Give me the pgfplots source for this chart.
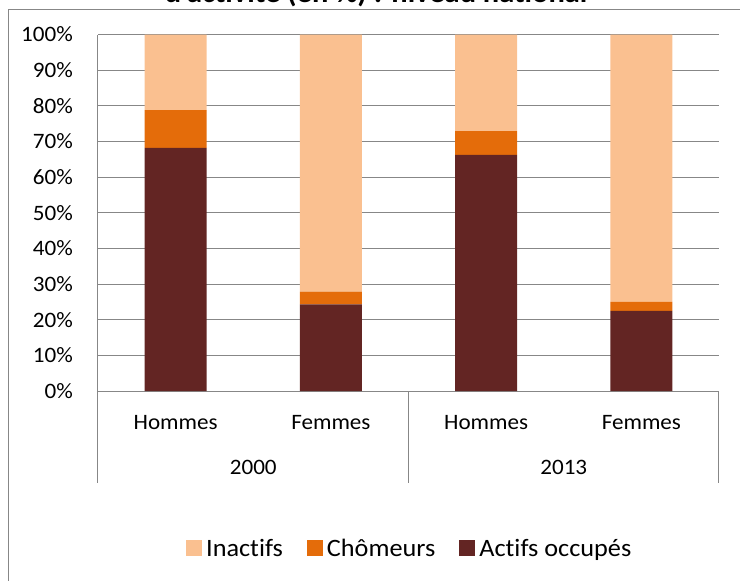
\documentclass[border=0pt]{standalone}
\usepackage{fontspec}
\setmainfont{Carlito}[FakeStretch=1.05, Ligatures=NoCommon]
\usepackage{pgfplots}
\pgfplotsset{compat=1.18}
\definecolor{inact}{HTML}{FAC090}
\definecolor{chom}{HTML}{E46C0A}
\definecolor{actif}{HTML}{632523}
\definecolor{gridc}{HTML}{878787}
\begin{document}
\begin{tikzpicture}[font=\fontsize{22}{26}\selectfont]
\begin{axis}[
  at={(0pt,0pt)}, anchor=south west,
  scale only axis, width=621pt, height=356.5pt,
  xmin=-0.5, xmax=3.5, ymin=0, ymax=100,
  ybar stacked, bar width=62pt,
  axis x line*=bottom, axis y line*=left,
  axis line style={-, gridc, line width=1pt},
  ymajorgrids, grid style={gridc, line width=1pt},
  ytick={0,10,...,100},
  /pgf/number format/assume math mode=true,
  yticklabel={\pgfmathprintnumber{\tick}\%},
  yticklabel style={anchor=east, inner sep=0pt, xshift=-25pt},
  major tick length=0pt,
  xtick={0,1,2,3}, xticklabels={Hommes,Femmes,Hommes,Femmes},
  xticklabel style={anchor=center, inner sep=0pt, yshift=-32pt},
  clip=false,
  reverse legend,
  legend columns=3,
  legend style={at={(0.502,-0.443)}, anchor=center, draw=none, fill=none,
    /tikz/every even column/.append style={column sep=22pt},
    /tikz/every odd column/.append style={column sep=2pt},
    font=\fontsize{25}{30}\selectfont},
  legend image code/.code={\fill[#1] (0pt,-7pt) rectangle (16pt,9pt);},
]
\addplot[fill=actif, draw=none] coordinates {(0,68.2) (1,24.3) (2,66.2) (3,22.5)};
\addlegendentry{Actifs occupés}
\addplot[fill=chom, draw=none] coordinates {(0,10.6) (1,3.6) (2,6.7) (3,2.5)};
\addlegendentry{Chômeurs}
\addplot[fill=inact, draw=none] coordinates {(0,21.2) (1,72.1) (2,27.1) (3,75.0)};
\addlegendentry{Inactifs}
\draw[gridc, line width=1pt] (axis cs:-0.5,0) -- ++(0pt,-92pt);
\draw[gridc, line width=1pt] (axis cs:1.5,0) -- ++(0pt,-92pt);
\draw[gridc, line width=1pt] (axis cs:3.5,0) -- ++(0pt,-92pt);
\node[inner sep=0pt, anchor=center] at (axis cs:0.5,0) [yshift=-76.5pt] {2000};
\node[inner sep=0pt, anchor=center] at (axis cs:2.5,0) [yshift=-76.5pt] {2013};
\end{axis}
\node[font=\fontsize{29}{34}\selectfont\bfseries, anchor=base] at (278pt,388pt) {d'activité (en \%) : niveau national};
\draw[gridc, line width=1pt] (-89.5pt,-200pt) -- (-89.5pt,381pt) -- (660pt,381pt);
\pgfresetboundingbox
\useasboundingbox (-98pt,-190pt) rectangle (642pt,391pt);
\end{tikzpicture}
\end{document}
